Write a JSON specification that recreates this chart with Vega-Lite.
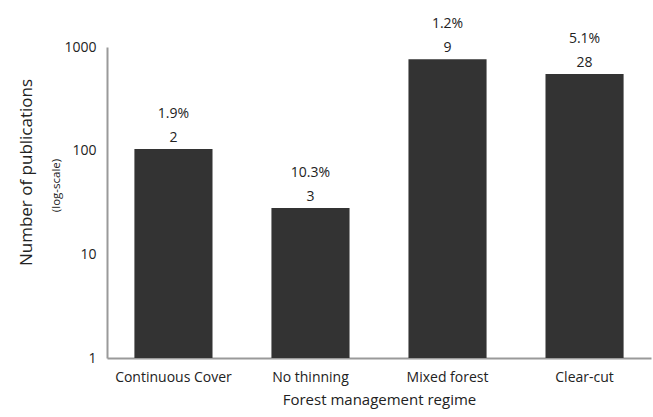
{
  "$schema": "https://vega.github.io/schema/vega-lite/v6.json",
  "width": 544,
  "height": 311,
  "autosize": {"type": "none"},
  "padding": {"left": 107, "top": 47, "right": 2, "bottom": 59},
  "background": "white",
  "config": {
    "font": "Open Sans",
    "view": {"stroke": null},
    "axis": {"labelColor": "#222", "titleColor": "#222", "titleFontWeight": "normal", "grid": false}
  },
  "data": {
    "values": [
      {"regime": "Continuous Cover", "pubs": 104, "pct": "1.9%", "count": "2"},
      {"regime": "No thinning", "pubs": 28, "pct": "10.3%", "count": "3"},
      {"regime": "Mixed forest", "pubs": 760, "pct": "1.2%", "count": "9"},
      {"regime": "Clear-cut", "pubs": 550, "pct": "5.1%", "count": "28"}
    ]
  },
  "encoding": {
    "x": {
      "field": "regime", "type": "nominal", "sort": null,
      "scale": {"paddingInner": 0.43, "paddingOuter": 0.2},
      "axis": {"title": "Forest management regime", "labelAngle": 0, "labelFontSize": 14, "titleFontSize": 15, "ticks": false, "labelPadding": 12, "titlePadding": 8, "domainColor": "#9a9a9a", "domainWidth": 2}
    }
  },
  "layer": [
    {
      "mark": {"type": "bar", "color": "#333333"},
      "encoding": {
        "y": {
          "field": "pubs", "type": "quantitative",
          "scale": {"type": "log", "domain": [1, 1000], "nice": false},
          "axis": {"title": "(log-scale)", "orient": "left", "titleFontSize": 11.5, "titlePadding": 2, "titleY": 138, "values": [1, 10, 100, 1000], "format": "d", "labelFontSize": 14, "ticks": false, "labelPadding": 11, "domainColor": "#9a9a9a", "domainWidth": 2}
        },
        "y2": {"datum": 1}
      }
    },
    {
      "mark": {"type": "text", "baseline": "alphabetic", "dy": -7, "fontSize": 14, "color": "#222"},
      "encoding": {
        "y": {
          "field": "pubs", "type": "quantitative",
          "scale": {"type": "log", "domain": [1, 1000], "nice": false},
          "axis": {"title": "Number of publications", "orient": "left", "offset": 72, "titleFontSize": 17, "titleY": 125, "labels": false, "ticks": false, "domain": false, "titlePadding": 0}
        },
        "text": {"field": "count"}
      }
    },
    {
      "mark": {"type": "text", "baseline": "alphabetic", "dy": -31, "fontSize": 14, "color": "#222"},
      "encoding": {
        "y": {
          "field": "pubs", "type": "quantitative",
          "scale": {"type": "log", "domain": [1, 1000], "nice": false},
          "axis": null
        },
        "text": {"field": "pct"}
      }
    }
  ],
  "resolve": {"axis": {"y": "independent"}}
}
